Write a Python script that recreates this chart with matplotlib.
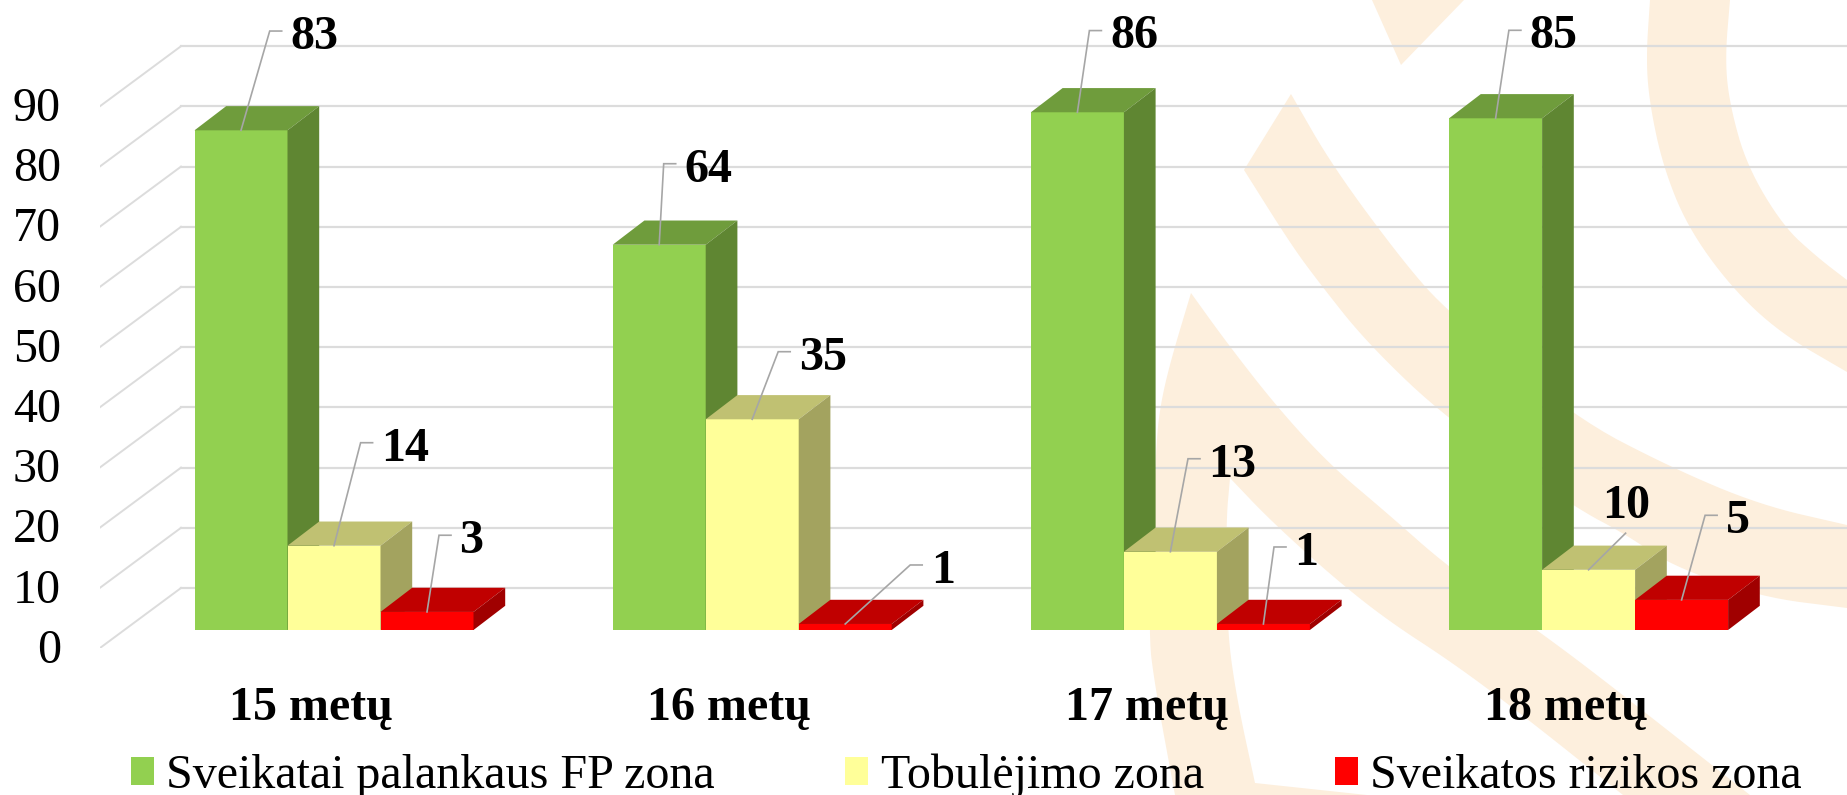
import matplotlib
matplotlib.use("Agg")
import matplotlib.pyplot as plt
from matplotlib.patches import Patch, Polygon
from matplotlib.transforms import Affine2D

plt.rcParams["font.family"] = ["Liberation Serif", "DejaVu Serif"]

# chart values
categories = ["15 metų", "16 metų", "17 metų", "18 metų"]
series_names = ["Sveikatai palankaus FP zona", "Tobulėjimo zona", "Sveikatos rizikos zona"]
favourable = [83, 64, 86, 85]
improvement = [14, 35, 13, 10]
risk = [3, 1, 1, 5]
y_ticks = [0, 10, 20, 30, 40, 50, 60, 70, 80, 90]

# front, top, side colour of each series
bar_colors = [
    ("#92D050", "#6F9C3C", "#5F8632"),
    ("#FFFF99", "#C0C172", "#A3A35F"),
    ("#FF0000", "#C00000", "#A00000"),
]

# leader line layout per group and series, in pixels from the bar top: elbow dx, dy
leader_elbows = [
    [(28.7, 99.3), (26.6, 103), (12, 76.7)],
    [(4.5, 81), (26, 67.6), (65, 59)],
    [(12, 81.7), (17.6, 93), (10.6, 77)],
    [(13.3, 88), (37, 36.6), (23.5, 84.6)],
]

W, H = 1847, 795
GROUP_PX = 418.2      # distance between groups
UNIT_PX = 6.02        # pixels for one unit of the value axis
FIRST_PX = 334        # centre of the first group
BASE_PX = 630         # row of value 0 on the bars' front
FLOOR_PX = 648        # row of value 0 at the front of the floor
BAR_W = 93 / GROUP_PX
SIDE_DX = 31.7 / GROUP_PX
SIDE_DY = 24.2 / UNIT_PX
WALL_X = (181 - FIRST_PX) / GROUP_PX
WALL_DY = 42 / UNIT_PX
FLOOR_DY = (FLOOR_PX - BASE_PX) / UNIT_PX
LEADER = "#A6A6A6"
GRID = "#DCDCDC"
WASH = "#FDEFDD"


def smooth(points, rounds=3):
    # corner cutting, the end points stay where they are
    for _ in range(rounds):
        new = [points[0]]
        for (x0, y0), (x1, y1) in zip(points[:-1], points[1:]):
            new.append((0.75 * x0 + 0.25 * x1, 0.75 * y0 + 0.25 * y1))
            new.append((0.25 * x0 + 0.75 * x1, 0.25 * y0 + 0.75 * y1))
        new.append(points[-1])
        points = new
    return points


def draw_watermark(fig):
    # pale slide background, pixel rows counted from the top
    px = Affine2D().scale(1, -1).translate(0, H)
    arc_outer = [(1650, 0), (1646, 60), (1650, 106), (1663, 166), (1687, 226),
                 (1730, 286), (1780, 333), (1847, 372)]
    arc_inner = [(1847, 280), (1817, 257), (1783, 226), (1747, 166), (1730, 106),
                 (1725, 60), (1730, 0)]
    band_upper = [(1291, 94), (1333, 167), (1405, 264), (1448, 312), (1574, 417),
                  (1670, 467), (1760, 505), (1847, 525)]
    band_lower = [(1847, 608), (1760, 597), (1670, 565), (1627, 535), (1574, 507),
                  (1448, 420), (1367, 343), (1317, 280), (1290, 243), (1244, 170)]
    tip_right = [(1191, 293), (1227, 343), (1277, 407), (1330, 465), (1387, 513),
                 (1448, 567), (1537, 630), (1600, 677), (1750, 795)]
    tip_lower = [(1623, 795), (1520, 713), (1453, 663), (1387, 620), (1333, 577),
                 (1270, 520), (1230, 478)]
    tip_inner = [(1230, 478), (1226, 523), (1227, 630), (1237, 700), (1255, 783)]
    tip_left = [(1175, 795), (1155, 687), (1148, 630), (1156, 447), (1160, 407),
                (1170, 363), (1191, 293)]
    shapes = [
        [(1372, 0), (1401, 65), (1464, 0)],
        smooth(arc_outer) + smooth(arc_inner),
        smooth(band_upper) + smooth(band_lower),
        smooth(tip_right) + smooth(tip_lower) + smooth(tip_inner)
        + [(1367, 795)] + smooth(tip_left),
    ]
    for pts in shapes:
        fig.add_artist(Polygon(pts, closed=True, facecolor=WASH, edgecolor="none",
                               transform=px, zorder=-1))


def draw_bar(ax, x0, value, colors, z):
    front, top, side = colors
    x1 = x0 + BAR_W
    ax.bar(x0, value, width=BAR_W, align="edge", color=front, linewidth=0, zorder=z)
    ax.add_patch(Polygon([(x0, value), (x1, value), (x1 + SIDE_DX, value + SIDE_DY),
                          (x0 + SIDE_DX, value + SIDE_DY)],
                         facecolor=top, edgecolor="none", zorder=z))
    ax.add_patch(Polygon([(x1, 0), (x1, value), (x1 + SIDE_DX, value + SIDE_DY),
                          (x1 + SIDE_DX, SIDE_DY)],
                         facecolor=side, edgecolor="none", zorder=z))


def draw_label(ax, x, value, elbow):
    dx, dy = elbow
    px_x, px_y = 1 / GROUP_PX, 1 / UNIT_PX
    ex, ey = x + dx * px_x, value + dy * px_y
    if str(value) == "10":
        # this one has a straight leader with the number above it
        ax.plot([x, ex], [value, ey], color=LEADER, lw=1.2, zorder=20)
        ax.text(ex + 1 * px_x, ey + 15 * px_y, str(value), fontsize=34.6, fontweight="bold",
                ha="center", va="baseline", zorder=21)
        return
    end = ex + 12 * px_x
    ax.plot([x, ex, end], [value, ey, ey], color=LEADER, lw=1.2, zorder=20,
            solid_joinstyle="miter")
    ax.text(end + 8.5 * px_x, ey - 17.8 * px_y, str(value), fontsize=34.6, fontweight="bold",
            ha="left", va="baseline", zorder=21)


def main():
    fig = plt.figure(figsize=(W / 100, H / 100), dpi=100, facecolor="white")
    draw_watermark(fig)

    ax = fig.add_axes([100 / W, (H - FLOOR_PX) / H, (W - 100) / W, FLOOR_PX / H])
    ax.patch.set_visible(False)
    ax.set_xlim((100 - FIRST_PX) / GROUP_PX, (W - FIRST_PX) / GROUP_PX)
    ax.set_ylim(-FLOOR_DY, -FLOOR_DY + FLOOR_PX / UNIT_PX)
    for spine in ax.spines.values():
        spine.set_visible(False)

    # wall and floor lines
    left = ax.get_xlim()[0]
    for v in y_ticks:
        ax.plot([left, WALL_X], [v - FLOOR_DY, v + WALL_DY], color=GRID, lw=1.4, zorder=1)
        ax.plot([WALL_X, ax.get_xlim()[1]], [v + WALL_DY, v + WALL_DY], color=GRID, lw=1.6, zorder=1)

    values = [favourable, improvement, risk]
    for g in range(len(categories)):
        for s, series in enumerate(values):
            x0 = g - 1.5 * BAR_W + s * BAR_W
            draw_bar(ax, x0, series[g], bar_colors[s], 2 + g + s * 0.1)
        for s, series in enumerate(values):
            x0 = g - 1.5 * BAR_W + s * BAR_W
            draw_label(ax, x0 + BAR_W / 2, series[g], leader_elbows[g][s])

    ax.set_yticks([v - FLOOR_DY + 0.35 for v in y_ticks], labels=[str(v) for v in y_ticks])
    ax.set_xticks([g - 23 / GROUP_PX for g in range(len(categories))], labels=categories)
    ax.tick_params(axis="y", length=0, pad=28, labelsize=34.6)
    ax.tick_params(axis="x", length=0, pad=27.5, labelsize=34.6)
    for lab in ax.get_xticklabels():
        lab.set_fontweight("bold")

    handles = [Patch(facecolor=c[0], edgecolor="none", label=n)
               for c, n in zip(bar_colors, series_names)]
    fig.legend(handles=handles, loc="lower left", ncols=3, frameon=False, fontsize=34.6,
               bbox_to_anchor=(130.5 / W, -3 / H), bbox_transform=fig.transFigure,
               borderpad=0, borderaxespad=0, handlelength=0.48, handleheight=0.5,
               handletextpad=0.26, columnspacing=2.72)

    fig.savefig("out.png", dpi=100, facecolor="white")
    plt.close(fig)


if __name__ == "__main__":
    main()
